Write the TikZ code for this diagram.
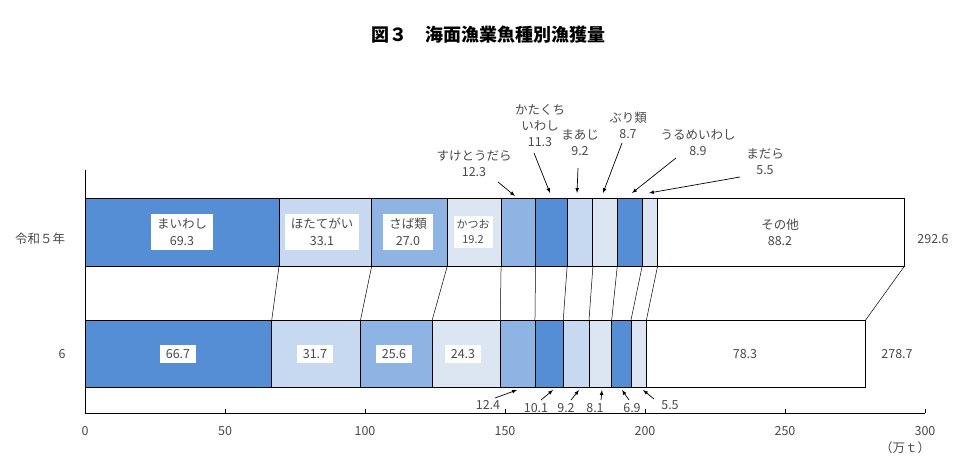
\documentclass[tikz,border=0pt]{standalone}
\usepackage{fontspec}
\setmainfont{Noto Sans CJK JP}
\begin{document}
\begin{tikzpicture}[x=1pt,y=-1pt,
  seg/.style={draw=black,line width=0.9pt},
  lab/.style={fill=white,inner xsep=6pt,inner ysep=4pt,align=center,text=tc,font=\fontsize{12.5}{17}\selectfont},
  txt/.style={align=center,text=tc,font=\fontsize{12.5}{16}\selectfont,inner sep=1pt},
  arr/.style={-latex,line width=0.7pt},
  conn/.style={line width=0.5pt}]
\definecolor{dk}{HTML}{568ED6}\definecolor{md}{HTML}{8DB4E2}
\definecolor{lt}{HTML}{C6D9F1}\definecolor{vl}{HTML}{DCE6F2}\definecolor{tc}{HTML}{4A4A4A}
\useasboundingbox (0,0) rectangle (960,465);
\node[font=\bfseries\fontsize{18}{20}\selectfont] (title) at (488,35) {図３　海面漁業魚種別漁獲量};
\foreach \a/\b/\c [count=\i] in {0/69.3/dk,69.3/102.4/lt,102.4/129.4/md,129.4/148.6/vl,148.6/160.9/md,160.9/172.2/dk,172.2/181.4/lt,181.4/190.1/vl,190.1/199.0/dk,199.0/204.5/vl,204.5/292.7/white}
  \draw[seg,fill=\c] ({85+\a*2.8},198) rectangle ({85+\b*2.8},266) coordinate (t\i);
\foreach \a/\b/\c [count=\i] in {0/66.7/dk,66.7/98.4/lt,98.4/124.0/md,124.0/148.3/vl,148.3/160.7/md,160.7/170.8/dk,170.8/180.0/lt,180.0/188.1/vl,188.1/195.0/dk,195.0/200.5/vl,200.5/278.8/white}
  \draw[seg,fill=\c] ({85+\a*2.8},320) rectangle ({85+\b*2.8},387) coordinate (b\i);
\foreach \i in {1,...,11}{\draw[conn] (t\i) -- (b\i|-0,320);}
\draw[line width=0.8pt] (85,170) -- (85,413) -- (925,413);
\foreach \v in {0,50,...,300}{
  \draw ({85+\v*2.8},413) -- ({85+\v*2.8},409);
  \node[txt] (ax\v) at ({85+\v*2.8},431) {\v};}
\node[txt] (unit) at (905,448) {（万ｔ）};
\node[txt] (y5) at (40,239) {令和５年};
\node[txt] (y6) at (62,354) {6};
\node[txt] (tot5) at (933,239) {292.6};
\node[txt] (tot6) at (897,354) {278.7};
\node[lab] (l1) at (182,232) {まいわし\\69.3};
\node[lab] (l2) at (322,232) {ほたてがい\\33.1};
\node[lab] (l3) at (408,232) {さば類\\27.0};
\node[lab,font=\fontsize{11}{15}\selectfont,inner xsep=3pt] (l4) at (473,232) {かつお\\19.2};
\node[txt] (l11) at (780,232) {その他\\88.2};
\node[lab] (m1) at (178,354) {66.7};
\node[lab] (m2) at (315,354) {31.7};
\node[lab] (m3) at (394,354) {25.6};
\node[lab] (m4) at (463,354) {24.3};
\node[txt] (m11) at (745,354) {78.3};
\node[txt] (c5) at (474,164) {すけとうだら\\12.3};
\node[txt] (c6) at (540,126) {かたくち\\いわし\\11.3};
\node[txt] (c7) at (580,143) {まあじ\\9.2};
\node[txt] (c8) at (628,125) {ぶり類\\8.7};
\node[txt] (c9) at (698,143) {うるめいわし\\8.9};
\node[txt] (c10) at (765,162) {まだら\\5.5};
\coordinate (p5) at (515,196);\coordinate (p6) at (550,193);\coordinate (p7) at (577,193);
\coordinate (p8) at (603,193);\coordinate (p9) at (632,193);\coordinate (p10) at (649,193);
\draw[arr] (498,182) -- (p5);\draw[arr] (534,153) -- (p6);\draw[arr] (578,168) -- (p7);
\draw[arr] (622,143) -- (p8);\draw[arr] (676,158) -- (p9);\draw[arr] (740,177) -- (p10);
\node[txt] (d5) at (488,405) {12.4};
\node[txt] (d6) at (536,408) {10.1};
\node[txt] (d7) at (566,408) {9.2};
\node[txt] (d8) at (595,408) {8.1};
\node[txt] (d9) at (632,408) {6.9};
\node[txt] (d10) at (670,405) {5.5};
\draw[arr] (495,398) -- (517,390);\draw[arr] (541,400) -- (553,390);\draw[arr] (571,400) -- (579,390);
\draw[arr] (601,400) -- (602,390);\draw[arr] (629,400) -- (622,390);\draw[arr] (654,399) -- (643,390);
\end{tikzpicture}
\end{document}
